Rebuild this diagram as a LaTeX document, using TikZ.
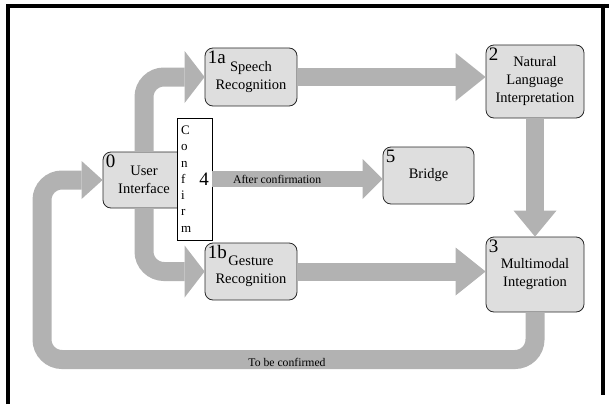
\documentclass[tikz,border=0pt]{standalone}
\usepackage{fontspec}
\setmainfont{Liberation Serif}
\usepackage{tikz}
\usetikzlibrary{arrows.meta, positioning}
\definecolor{arrgray}{RGB}{178,178,178}
\definecolor{boxgray}{RGB}{222,222,222}
\definecolor{mydark}{RGB}{40,40,40}
\tikzset{
  stage/.style={rectangle, draw=mydark, fill=boxgray, align=center,
    font=\fontsize{14.5}{18}\selectfont, rounded corners=8pt,
    line width=0.8pt, inner sep=0pt},
  numlbl/.style={anchor=north west, inner sep=3pt,
    font=\fontsize{19}{19}\selectfont},
  confbox/.style={rectangle, draw=black, fill=white, line width=0.8pt,
    align=left, text width=27pt, inner sep=4pt,
    font=\fontsize{13}{16.3}\selectfont},
  fat/.style={draw=arrgray, line width=18pt,
    -{Triangle[width=48pt, length=30pt, line width=0pt]}},
  bent/.style={draw=arrgray, line width=19pt, rounded corners=20pt,
    -{Triangle[width=52pt, length=20pt, line width=0pt]}},
  small/.style={font=\fontsize{11.7}{14}\selectfont},
  frameline/.style={line width=4pt, black}
}

\begin{document}
\begin{tikzpicture}[x=1pt, y=-1pt]
\useasboundingbox (0,0) rectangle (609,404);
% frame
\draw[frameline] (8,404) -- (8,6) -- (609,6);
\draw[frameline] (603,4) -- (603,395);

\node[stage, minimum width=82pt, minimum height=56pt,
  label={[numlbl]north west:0}] (ui) at (144,180) {User\\Interface};
\node[stage, minimum width=92pt, minimum height=58pt,
  label={[numlbl]north west:1a}] (sr) at (251,77) {Speech\\Recognition};
\node[stage, minimum width=92pt, minimum height=57pt,
  label={[numlbl]north west:1b}] (gr) at (251,271.5) {Gesture\\Recognition};
\node[stage, minimum width=98pt, minimum height=73pt,
  label={[numlbl]north west:2}] (nli) at (535,81.5) {Natural\\Language\\Interpretation};
\node[stage, minimum width=91pt, minimum height=57pt,
  label={[numlbl]north west:5}] (br) at (428.5,175.5) {Bridge};
\node[stage, minimum width=98pt, minimum height=75pt,
  label={[numlbl]north west:3}] (mi) at (535,274.5) {Multimodal\\Integration};
\node[confbox, minimum height=122pt,
  label={[anchor=east, font=\fontsize{19}{19}\selectfont]east:4}] (conf)
  at (194.5,179) {C\\o\\n\\f\\i\\r\\m};

\coordinate (loopbl) at (42,359.5);

\draw[bent] (ui.north) |- (sr.west);
\draw[bent] (ui.south) |- (gr.west);
\draw[fat] (sr.east) -- (sr.east -| nli.west);
\draw[fat] (gr.east) -- (gr.east -| mi.west);
\draw[fat, -{Triangle[width=43pt, length=26pt, line width=0pt]}] (nli.south) -- (mi.north);
\draw[fat, line width=16pt, -{Triangle[width=40pt, length=20pt, line width=0pt]}]
  (conf.east) -- node[small, pos=0.38] {After confirmation} (conf.east -| br.west);
\draw[bent, -{Triangle[width=38pt, length=21pt, line width=0pt]}]
  (mi.south) |- (loopbl) |- (ui.west);
\node[small] (tbc) at (287,362) {To be confirmed};
\end{tikzpicture}
\end{document}
